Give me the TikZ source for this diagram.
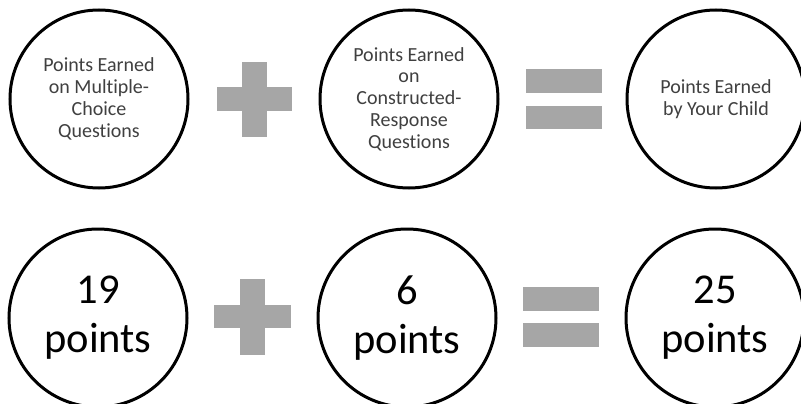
\documentclass[tikz,border=0pt]{standalone}
\usepackage{fontspec}
\setmainfont{Carlito}[Ligatures={NoCommon}]
\definecolor{signgray}{HTML}{A6A6A6}
\definecolor{toptext}{HTML}{404040}
\tikzset{
  bubble/.style={circle, draw=black, line width=3pt, minimum size=178pt, inner sep=0pt, align=center},
  labeltop/.style={bubble, text=toptext, font=\fontsize{20}{21.8}\selectfont},
  labelbig/.style={bubble, text=black, font=\fontsize{42.5}{49}\selectfont},
  signfill/.style={fill=signgray, draw=none}
}
\begin{document}
\begin{tikzpicture}[x=1pt,y=-1pt]
\path[use as bounding box, clip] (0,0) rectangle (801,404);
\fill[white] (0,0) rectangle (801,404);
% top row
\node[labeltop] (mc) at (99,99) {Points Earned\\on Multiple-\\Choice\\Questions};
\node[labeltop] (cr) at (409,99) {Points Earned\\on\\Constructed-\\Response\\Questions};
\node[labeltop] (tot) at (716,99) {Points Earned\\by Your Child};
% top plus
\fill[signfill] (217,87) rectangle (292,111);
\fill[signfill] (242,62) rectangle (267,137);
% top equals
\fill[signfill] (526,69) rectangle (602,93);
\fill[signfill] (526,106) rectangle (602,129);
% bottom row
\node[labelbig] (mcv) at (98,318) {19\\points};
\node[labelbig] (crv) at (407,318) {6\\points};
\node[labelbig] (totv) at (715,318) {25\\points};
% bottom plus
\fill[signfill] (214,305) rectangle (291,328);
\fill[signfill] (240,279) rectangle (265,355);
% bottom equals
\fill[signfill] (523,287) rectangle (599,311);
\fill[signfill] (523,323) rectangle (599,347);
\end{tikzpicture}
\end{document}
